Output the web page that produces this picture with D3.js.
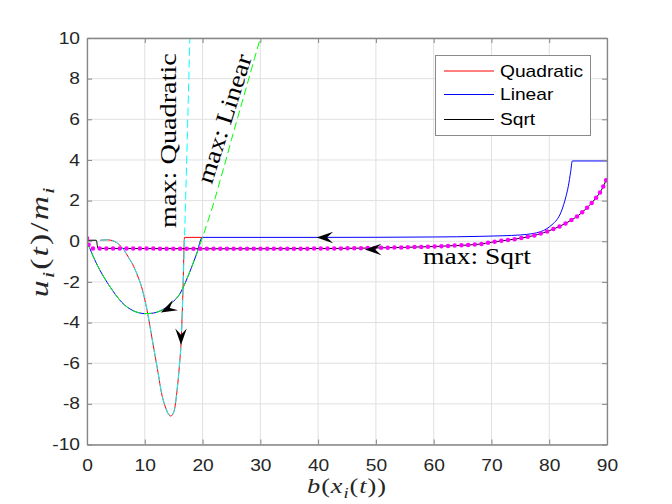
<!DOCTYPE html>
<html>
<head>
<meta charset="utf-8">
<script src="https://cdn.jsdelivr.net/npm/d3@7"></script>
<style>
  body { margin: 0; background: #fff; }
  svg { display: block; }
</style>
</head>
<body>
<div id="chart"></div>
<script>
// ticks
const xTicks = [0, 10, 20, 30, 40, 50, 60, 70, 80, 90];
const yTicks = [-10, -8, -6, -4, -2, 0, 2, 4, 6, 8, 10];

const legendNames = ["Quadratic", "Linear", "Sqrt"];
const legendColors = ["#ff0000", "#0000ff", "#000000"];

// max bound curves  [b, u/m]
const maxQuadratic = [[2.3, 0.05], [3.5, 0.07], [4.7, 0], [5.5, -0.15], [6.4, -0.43], [7.2, -0.8],
  [8.1, -1.25], [8.9, -1.8], [9.6, -2.4], [10.4, -3.4], [11.3, -4.85], [12.2, -6.3], [13, -7.6],
  [13.5, -8.1], [13.9, -8.4], [14.5, -8.6], [15.05, -8.38], [15.6, -7.3], [16.0, -6.1],
  [16.3, -4.9], [16.6, -2.5], [16.88, 0.19], [17.35, 5.0], [17.8, 10.0]];

const maxLinear = [[0, 0], [1, -0.7], [2, -1.3], [3, -1.8], [4, -2.25], [5, -2.65], [6, -3.0],
  [7, -3.25], [8, -3.42], [9, -3.52], [10, -3.56], [11, -3.55], [12, -3.5], [13, -3.38],
  [14, -3.2], [15, -2.95], [16, -2.62], [17, -2.05], [18, -1.35], [19, -0.6], [20, 0.2],
  [21, 1.05], [22, 1.95], [23, 2.95], [24, 3.95], [25, 5.0], [26, 6.0], [27, 7.0], [28, 8.0],
  [29, 9.0], [30, 10.0]];

// trajectories
const quadratic = [[2.3, 0.05], [3.5, 0.07], [4.7, 0], [5.5, -0.15], [6.4, -0.43], [7.2, -0.8],
  [8.1, -1.25], [8.9, -1.8], [9.6, -2.4], [10.4, -3.4], [11.3, -4.85], [12.2, -6.3], [13, -7.6],
  [13.5, -8.1], [13.9, -8.4], [14.5, -8.6], [15.05, -8.38], [15.6, -7.3], [16.0, -6.1],
  [16.3, -4.9], [16.6, -2.5], [16.88, 0.19], [20, 0.19]];

const linear = [[0, 0], [1, -0.7], [2, -1.3], [3, -1.8], [4, -2.25], [5, -2.65], [6, -3.0],
  [7, -3.25], [8, -3.42], [9, -3.52], [10, -3.56], [11, -3.55], [12, -3.5], [13, -3.38],
  [14, -3.2], [15, -2.95], [16, -2.62], [17, -2.05], [18, -1.35], [19, -0.6], [19.95, 0.19],
  [40, 0.19], [60, 0.21], [68, 0.24], [72, 0.27], [75, 0.31], [77, 0.37], [78.5, 0.47],
  [79.6, 0.62], [80.5, 0.82], [81.3, 1.05], [82, 1.4], [82.5, 1.8], [82.9, 2.2], [83.3, 2.7],
  [83.7, 3.4], [84, 3.95], [90, 3.95]];

const sqrtTraj = [[0, 0.05], [1.6, 0.05], [1.9, -0.35], [10, -0.36], [20, -0.37], [30, -0.37],
  [40, -0.36], [50, -0.33], [55, -0.3], [60, -0.26], [64, -0.21], [68, -0.14], [70, -0.05],
  [72, 0.03], [74, 0.1], [76, 0.2], [78, 0.33], [80, 0.52], [82, 0.76], [84, 1.07], [85, 1.26],
  [86, 1.5], [87, 1.78], [88, 2.1], [89, 2.5], [90, 3.1]];

const maxSqrt = [[0, 0.15], [0.6, -0.35]].concat(sqrtTraj.slice(3));

// arrow tips and text anchors, in data units
const arrowTips = [[12.76, -3.51], [16.27, -5.1], [39.75, 0.19], [48.1, -0.4]];
const noteAnchors = [[15.4, 0.65], [21.6, 2.77], [58.15, -1.14]];
const noteTexts = ["max: Quadratic", "max: Linear", "max: Sqrt"];

const width = 672, height = 504;
const plotLeft = 87, plotRight = 607, plotTop = 38, plotBottom = 444.5;
const axisColor = "#868686";
const serif = "'Liberation Serif', 'Times New Roman', serif";
const sans = "'Liberation Sans', Arial, sans-serif";

const x = d3.scaleLinear().domain([0, 90]).range([plotLeft, plotRight]);
const y = d3.scaleLinear().domain([-10, 10]).range([plotBottom, plotTop]);

const svg = d3.select("#chart").append("svg")
    .attr("width", width)
    .attr("height", height);

svg.append("rect").attr("width", width).attr("height", height).attr("fill", "#fff");

// grid
svg.append("g").selectAll("line")
    .data(xTicks)
    .join("line")
    .attr("x1", d => x(d)).attr("x2", d => x(d))
    .attr("y1", plotTop).attr("y2", plotBottom)
    .attr("stroke", "#e0e0e0");
svg.append("g").selectAll("line")
    .data(yTicks)
    .join("line")
    .attr("x1", plotLeft).attr("x2", plotRight)
    .attr("y1", d => y(d)).attr("y2", d => y(d))
    .attr("stroke", "#e0e0e0");

svg.append("clipPath").attr("id", "plotArea")
  .append("rect")
    .attr("x", plotLeft).attr("y", plotTop)
    .attr("width", plotRight - plotLeft).attr("height", plotBottom - plotTop);

const line = d3.line().x(d => x(d[0])).y(d => y(d[1])).curve(d3.curveMonotoneX);
const plot = svg.append("g").attr("clip-path", "url(#plotArea)");

function drawLine(data, color, dash) {
    const p = plot.append("path")
        .datum(data)
        .attr("d", line)
        .attr("fill", "none")
        .attr("stroke", color)
        .attr("stroke-width", 1);
    if (dash) p.attr("stroke-dasharray", dash);
    return p;
}

drawLine(quadratic, "#ff0000");
drawLine(linear, "#0000ff");
drawLine(sqrtTraj, "#000000");
drawLine(maxQuadratic, "#00ffff", "8,4");
drawLine(maxLinear, "#00ff00", "8,4");
// max sqrt: magenta dots
plot.append("path")
    .datum(maxSqrt)
    .attr("d", line)
    .attr("fill", "none")
    .attr("stroke", "#ff00ff")
    .attr("stroke-width", 4.5)
    .attr("stroke-linecap", "round")
    .attr("stroke-dasharray", "0,6.7");

// arrows
const arrowAngles = [153, 90, 180, 180];
const headL = 16.5, headW = 11.5;
svg.append("g").selectAll("path")
    .data(arrowTips)
    .join("path")
    .attr("d", `M0,0L${-headL},${-headW / 2}L${-headL * 0.62},0L${-headL},${headW / 2}Z`)
    .attr("transform", (d, i) => `translate(${x(d[0])},${y(d[1])}) rotate(${arrowAngles[i]})`)
    .attr("fill", "#000");

// axes
function styleAxis(g) {
    g.attr("font-family", sans).attr("font-size", 16);
    g.select(".domain").attr("stroke", axisColor).attr("stroke-width", 1.3);
    g.selectAll(".tick line").attr("stroke", axisColor);
    g.selectAll(".tick text").attr("fill", "#262626");
}

const fmt = d => String(d);

svg.append("g")
    .attr("transform", `translate(0,${plotBottom})`)
    .call(d3.axisBottom(x).tickValues(xTicks).tickSizeInner(-5).tickSizeOuter(0).tickPadding(15).tickFormat(fmt))
    .call(styleAxis)
    .call(g => g.selectAll(".tick text").attr("transform", "scale(1.2,1)"));

svg.append("g")
    .attr("transform", `translate(${plotLeft},0)`)
    .call(d3.axisLeft(y).tickValues(yTicks).tickSizeInner(-5).tickSizeOuter(0).tickPadding(7).tickFormat(fmt))
    .call(styleAxis)
    .call(g => g.selectAll(".tick text").attr("x", -7 / 1.2).attr("transform", "scale(1.2,1)"));

svg.append("g")
    .attr("transform", `translate(0,${plotTop})`)
    .call(d3.axisTop(x).tickValues(xTicks).tickSizeInner(-5).tickSizeOuter(0).tickFormat(""))
    .call(styleAxis);

svg.append("g")
    .attr("transform", `translate(${plotRight},0)`)
    .call(d3.axisRight(y).tickValues(yTicks).tickSizeInner(-5).tickSizeOuter(0).tickFormat(""))
    .call(styleAxis);

// serif (LaTeX-like) text
function mathText(parts, size, anchor, color) {
    const t = svg.append("text")
        .attr("font-family", serif)
        .attr("font-size", size)
        .attr("text-anchor", anchor)
        .attr("fill", color);
    let shifted = false;
    parts.forEach(p => {
        const ts = t.append("tspan").text(p.t);
        if (p.it) ts.attr("font-style", "italic");
        if (p.sub) {
            ts.attr("font-size", size * 0.7).attr("dy", size * 0.22);
            shifted = true;
        } else if (shifted) {
            ts.attr("dy", -size * 0.22);
            shifted = false;
        }
    });
    return t;
}

// stretch along the baseline, at most by maxScale; the rest goes into letter spacing
function place(t, px, py, angle, target, maxScale) {
    const len = t.node().getComputedTextLength();
    let s = target / len;
    if (maxScale && s > maxScale) {
        const n = t.text().length;
        t.attr("letter-spacing", (target / maxScale - len) / n);
        s = maxScale;
    }
    t.attr("transform", `translate(${px},${py}) rotate(${angle}) scale(${s},1)`);
}

const noteAngles = [-90, -72.5, 0];
const noteLengths = [175, 134, 108];
noteTexts.forEach((s, i) => {
    const t = mathText([{ t: s }], 24, "start", "#000");
    place(t, x(noteAnchors[i][0]), y(noteAnchors[i][1]), noteAngles[i], noteLengths[i]);
});

const xLab = mathText([
    { t: "b", it: true }, { t: "(" }, { t: "x", it: true }, { t: "i", it: true, sub: true },
    { t: "(" }, { t: "t", it: true }, { t: "))" }
], 22, "middle", "#262626");
place(xLab, (plotLeft + plotRight) / 2, 493, 0, 80, 1.2);

const yLab = mathText([
    { t: "u", it: true }, { t: "i", it: true, sub: true }, { t: "(" }, { t: "t", it: true },
    { t: ")/" }, { t: "m", it: true }, { t: "i", it: true, sub: true }
], 25, "middle", "#262626");
place(yLab, 48, (plotTop + plotBottom) / 2, -90, 112, 1.35);

// legend
const legend = svg.append("g");
legend.append("rect")
    .attr("x", 435.5).attr("y", 55.5)
    .attr("width", 155).attr("height", 80)
    .attr("fill", "#fff")
    .attr("stroke", "#8a8a8a");
const rowY = [71, 94.5, 119.5];
legendNames.forEach((name, i) => {
    legend.append("line")
        .attr("x1", 444).attr("x2", 494)
        .attr("y1", rowY[i]).attr("y2", rowY[i])
        .attr("stroke", legendColors[i]);
    legend.append("text")
        .attr("transform", `translate(500,${rowY[i]}) scale(1.2,1)`)
        .attr("dy", "0.36em")
        .attr("font-family", sans)
        .attr("font-size", 16)
        .attr("fill", "#000")
        .text(name);
});
</script>
</body>
</html>
